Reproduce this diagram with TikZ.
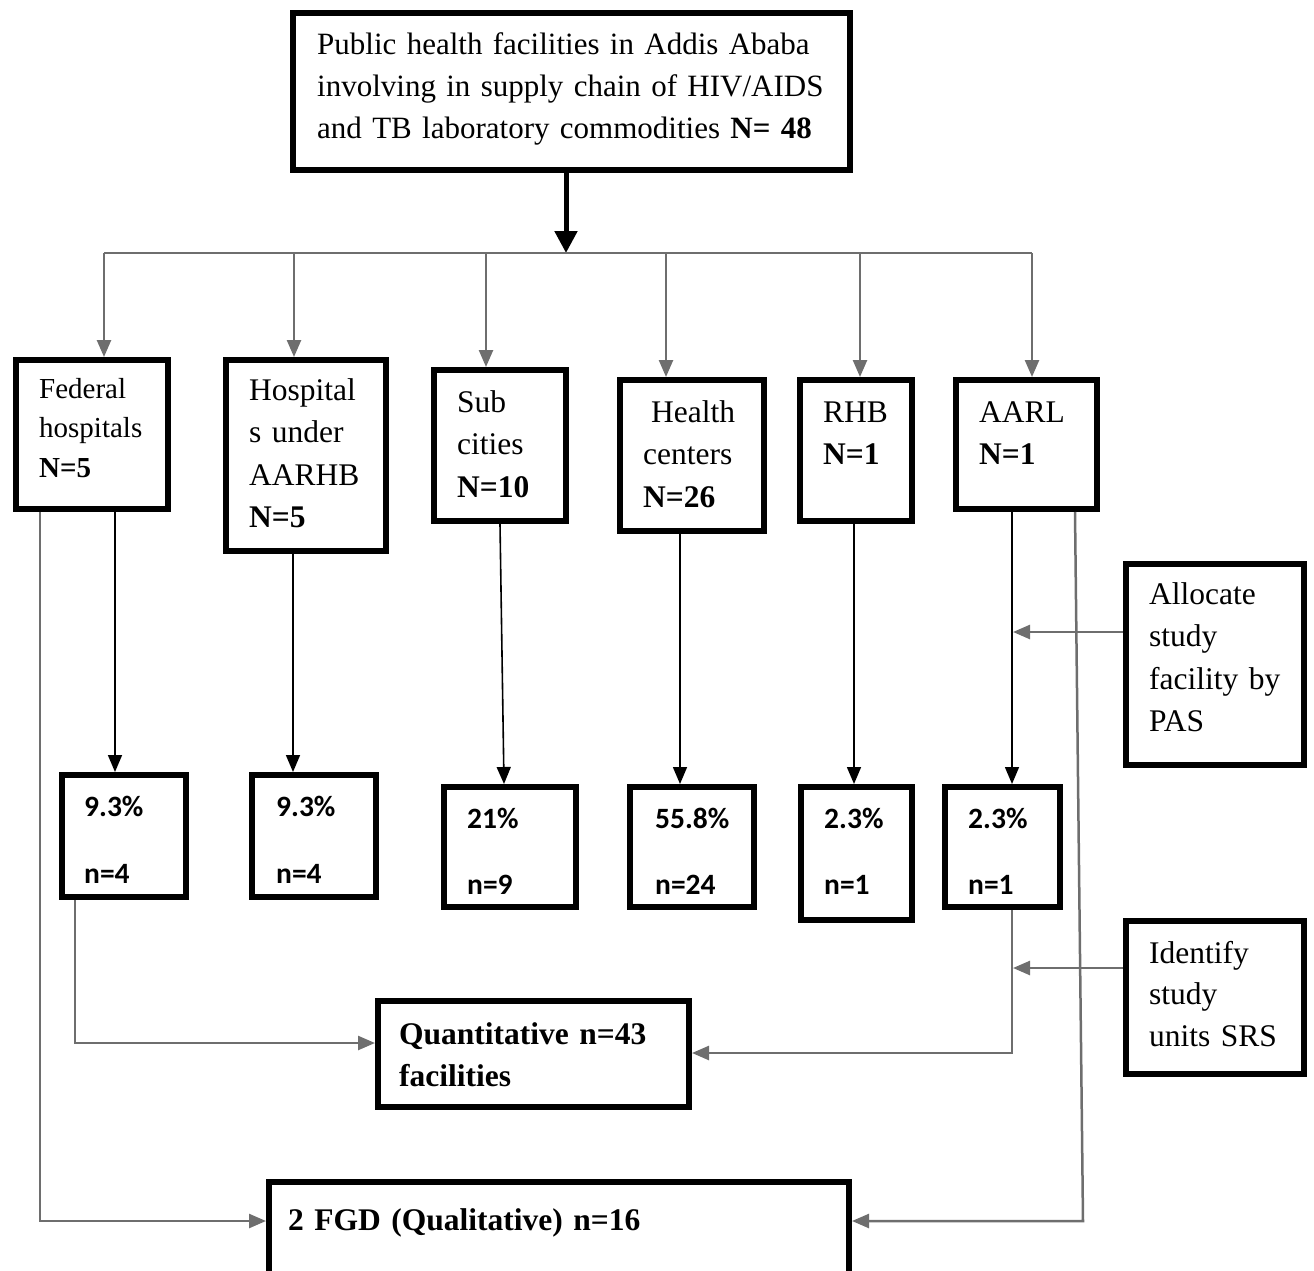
\documentclass[tikz,border=0pt]{standalone}
\usepackage{fontspec}
\setmainfont{Liberation Serif}
\newfontfamily\pctfont{Carlito}
\usetikzlibrary{arrows.meta}
\definecolor{linegray}{HTML}{6E6E6E}

\tikzset{
  box/.style={draw=black, line width=6pt, fill=white, inner sep=0pt},
  txt/.style={anchor=base west, inner sep=0pt, align=left, text width=#1,
              font=\fontsize{31.5}{42.5}\selectfont},
  txt/.default=300pt,
  pct/.style={anchor=base west, inner sep=0pt, font=\pctfont\bfseries\fontsize{29.5}{35}\selectfont},
  gline/.style={draw=linegray, line width=2.5pt},
  garrow/.style={gline, -{Triangle[length=17pt,width=14pt]}},
  barrow/.style={draw=black, line width=1.6pt, -{Triangle[length=17pt,width=14pt]}},
  bigarrow/.style={draw=black, line width=5pt, -{Triangle[length=22pt,width=22pt]}},
}

\begin{document}
\begin{tikzpicture}[x=1pt, y=-1pt]
\useasboundingbox (0,0) rectangle (1314,1271);

% ---- top box
\node[box, minimum width=557pt, minimum height=157pt] (top) at (571.5,91.5) {};
\node[txt=540pt, font=\fontsize{31}{42}\selectfont] (toptxt) at (317,55)
  {Public health facilities in Addis Ababa\\involving in supply chain of HIV/AIDS\\and TB laboratory commodities \textbf{N= 48}};

% ---- facility groups
\node[box, minimum width=152pt, minimum height=149pt] (fed)  at (92,434.5) {};
\node[box, minimum width=160pt, minimum height=191pt] (hosp) at (306,455.5) {};
\node[box, minimum width=132pt, minimum height=151pt] (sub)  at (500,445.5) {};
\node[box, minimum width=144pt, minimum height=151pt] (hc)   at (692,455.5) {};
\node[box, minimum width=112pt, minimum height=141pt] (rhb)  at (856,450.5) {};
\node[box, minimum width=141pt, minimum height=129pt] (aarl) at (1026.5,444.5) {};

\node[txt, font=\fontsize{29}{39.5}\selectfont] (fedtxt) at (39,398) {Federal\\hospitals\\\textbf{N=5}};
\node[txt] (hosptxt) at (249,400) {Hospital\\s under\\AARHB\\\textbf{N=5}};
\node[txt] (subtxt)  at (457,412) {Sub\\cities\\\textbf{N=10}};
\node[txt] (hctxt)   at (643,422) {\hspace*{8pt}Health\\centers\\\textbf{N=26}};
\node[txt] (rhbtxt)  at (823,422) {RHB\\\textbf{N=1}};
\node[txt] (aarltxt) at (979,422) {AARL\\\textbf{N=1}};

% ---- sample boxes
\node[box, minimum width=124pt, minimum height=122pt] (p1) at (124,836) {};
\node[box, minimum width=124pt, minimum height=122pt] (p2) at (314,836) {};
\node[box, minimum width=132pt, minimum height=120pt] (p3) at (510,847) {};
\node[box, minimum width=124pt, minimum height=120pt] (p4) at (692,847) {};
\node[box, minimum width=111pt, minimum height=133pt] (p5) at (856.5,853.5) {};
\node[box, minimum width=115pt, minimum height=120pt] (p6) at (1002.5,847) {};

\node[pct] (p1a) at (84,816) {9.3\%};
\node[pct] (p1b) at (84,883) {n=4};
\node[pct] (p2a) at (276,816) {9.3\%};
\node[pct] (p2b) at (276,883) {n=4};
\node[pct] (p3a) at (467,828) {21\%};
\node[pct] (p3b) at (467,894) {n=9};
\node[pct] (p4a) at (655,828) {55.8\%};
\node[pct] (p4b) at (655,894) {n=24};
\node[pct] (p5a) at (824,828) {2.3\%};
\node[pct] (p5b) at (824,894) {n=1};
\node[pct] (p6a) at (968,828) {2.3\%};
\node[pct] (p6b) at (968,894) {n=1};

% ---- side boxes
\node[box, minimum width=178pt, minimum height=201pt] (alloc) at (1215,664.5) {};
\node[txt] (alloctxt) at (1149,604) {Allocate\\study\\facility by\\PAS};
\node[box, minimum width=178pt, minimum height=153pt] (ident) at (1215,997.5) {};
\node[txt, font=\fontsize{31.5}{41.5}\selectfont] (identtxt) at (1149,963) {Identify\\study\\units SRS};

% ---- outcome boxes
\node[box, minimum width=311pt, minimum height=106pt] (quant) at (533.5,1054) {};
\node[txt, font=\bfseries\fontsize{31.5}{42}\selectfont] (quanttxt) at (399,1044) {Quantitative n=43\\facilities};
\node[box, minimum width=580pt, minimum height=92pt] (fgd) at (559,1228) {};
\node[txt=500pt, font=\bfseries\fontsize{31.5}{42}\selectfont] (fgdtxt) at (288,1230) {2 FGD (Qualitative) n=16};

% ---- reference coordinates for connector positions
\coordinate (tA) at (566,0);
\coordinate (busL) at (104,253);
\coordinate (busR) at (1032,253);
\coordinate (c1) at (104,253);
\coordinate (c2) at (294,253);
\coordinate (c3) at (486,253);
\coordinate (c4) at (666,253);
\coordinate (c5) at (860,253);
\coordinate (c6) at (1032,253);

\coordinate (d1) at (115,0);
\coordinate (d2) at (293,0);
\coordinate (d3a) at (500,0);
\coordinate (d3b) at (504,0);
\coordinate (d4) at (680,0);
\coordinate (d5) at (854,0);
\coordinate (d6) at (1012,0);

\coordinate (g1) at (40,0);
\coordinate (g2) at (1075,0);
\coordinate (g3) at (1083,0);
\coordinate (fy) at (0,1221);
\coordinate (q1) at (75,0);
\coordinate (q2) at (1012,0);
\coordinate (qy1) at (0,1043);
\coordinate (qy2) at (0,1053);
\coordinate (aT) at (1013,632);
\coordinate (iT) at (1013,968);

% ---- top distribution
\draw[bigarrow] (top.south -| tA) -- (tA |- busL);
\draw[gline] (busL) -- (busR);
\draw[garrow] (c1) -- (c1 |- fed.north);
\draw[garrow] (c2) -- (c2 |- hosp.north);
\draw[garrow] (c3) -- (c3 |- sub.north);
\draw[garrow] (c4) -- (c4 |- hc.north);
\draw[garrow] (c5) -- (c5 |- rhb.north);
\draw[garrow] (c6) -- (c6 |- aarl.north);

% ---- group to sample
\draw[barrow] (fed.south -| d1) -- (p1.north -| d1);
\draw[barrow] (hosp.south -| d2) -- (p2.north -| d2);
\draw[barrow] (sub.south -| d3a) -- (p3.north -| d3b);
\draw[barrow] (hc.south -| d4) -- (p4.north -| d4);
\draw[barrow] (rhb.south -| d5) -- (p5.north -| d5);
\draw[barrow] (aarl.south -| d6) -- (p6.north -| d6);

% ---- sampling method notes
\draw[garrow] (alloc.west |- aT) -- (aT);
\draw[garrow] (ident.west |- iT) -- (iT);

% ---- to quantitative
\draw[garrow] (p1.south -| q1) |- (quant.west |- qy1);
\draw[garrow] (p6.south -| q2) |- (quant.east |- qy2);

% ---- to qualitative
\draw[garrow] (fed.south -| g1) |- (fgd.west |- fy);
\draw[garrow] (aarl.south -| g2) -- (g3 |- fy) -- (fgd.east |- fy);

\end{tikzpicture}
\end{document}
